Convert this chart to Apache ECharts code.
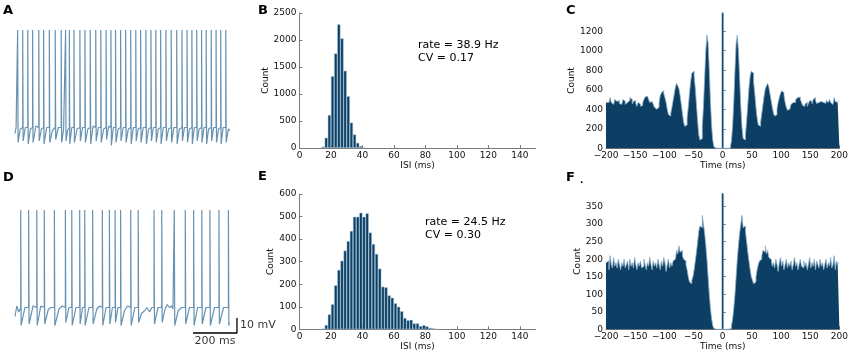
<!DOCTYPE html>
<html>
<head>
<meta charset="utf-8">
<script src="https://cdn.jsdelivr.net/npm/echarts@6/dist/echarts.min.js"></script>
<style>
  html, body { margin: 0; padding: 0; background: #fff; }
  #chart { width: 851px; height: 354px; }
</style>
</head>
<body>
<div id="chart"></div>
<script>
// ---- values ----

// ISI histograms, 2 ms bins (bin centre, ms)
var isiBinsB = [15, 17, 19, 21, 23, 25, 27, 29, 31, 33, 35, 37, 39, 41];
var isiCountsB = [25, 190, 610, 1330, 1750, 2290, 2030, 1430, 960, 470, 250, 95, 35, 10];

var isiBinsE = [15, 17, 19, 21, 23, 25, 27, 29, 31, 33, 35, 37, 39, 41, 43, 45, 47, 49, 51,
                53, 55, 57, 59, 61, 63, 65, 67, 69, 71, 73, 75, 77, 79, 81, 83, 85, 87];
var isiCountsE = [3, 19, 66, 111, 195, 263, 304, 349, 391, 436, 499, 499, 517, 499, 514, 429, 378, 334, 269,
                  189, 186, 150, 140, 115, 100, 80, 50, 40, 42, 26, 26, 14, 18, 13, 6, 4, 2];

// autocorrelograms, 2 ms bins, positive lags (an autocorrelogram is symmetric)
var acgLags = [2, 4, 6, 8, 10, 12, 14, 16, 18, 20, 22, 24, 26, 28, 30, 32, 34, 36, 38, 40,
               42, 44, 46, 48, 50, 52, 54, 56, 58, 60, 62, 64, 66, 68, 70, 72, 74, 76, 78, 80,
               82, 84, 86, 88, 90, 92, 94, 96, 98, 100, 102, 104, 106, 108, 110, 112, 114, 116, 118, 120,
               122, 124, 126, 128, 130, 132, 134, 136, 138, 140, 142, 144, 146, 148, 150, 152, 154, 156, 158, 160,
               162, 164, 166, 168, 170, 172, 174, 176, 178, 180, 182, 184, 186, 188, 190, 192, 194, 196, 198, 200];
var acgCountsC = [0, 0, 0, 0, 0, 0, 15, 80, 230, 480, 800, 1080, 1160, 1000, 720, 430, 220, 100, 85, 140,
                  280, 450, 620, 740, 790, 770, 680, 560, 420, 310, 240, 225, 270, 360, 450, 540, 610, 640, 665, 630,
                  560, 490, 420, 360, 330, 345, 400, 470, 520, 560, 590, 570, 540, 470, 420, 390, 400, 420, 450, 470,
                  480, 470, 500, 520, 535, 525, 500, 470, 440, 430, 455, 470, 430, 460, 490, 480, 455, 500, 520, 490,
                  460, 470, 450, 480, 500, 470, 450, 460, 490, 470, 480, 500, 470, 450, 470, 520, 480, 470, 490, 470];
var acgCountsF = [0, 0, 0, 0, 0, 0, 2, 10, 30, 60, 100, 150, 200, 240, 275, 300, 325, 290, 295, 280,
                  250, 220, 195, 170, 150, 140, 130, 135, 150, 170, 185, 195, 200, 210, 225, 220, 238, 215, 225, 205,
                  200, 195, 180, 190, 175, 200, 185, 165, 190, 205, 180, 195, 170, 185, 200, 175, 190, 180, 195, 170,
                  185, 205, 180, 190, 170, 185, 200, 180, 175, 195, 180, 190, 170, 185, 205, 175, 190, 180, 200, 170,
                  195, 185, 175, 200, 180, 190, 170, 185, 200, 175, 190, 180, 205, 175, 185, 210, 170, 195, 185, 190];
// zero-lag bin runs off the top of both panels
var acgZeroC = 1390;
var acgZeroF = 388;

// membrane potential traces (ms, mV)
var spikePeak = 15;
var spikeThreshold = -50;
var spikeTimesA = [12, 35, 58, 80, 108, 130, 156, 183, 210, 230, 247, 268, 295, 318, 342, 367, 390, 414, 436, 457, 480,
                   503, 526, 549, 571, 595, 618, 640, 662, 686, 710, 735, 759, 782, 804, 826, 848, 869, 892, 914, 935, 958];
var subA = [[0, -54], [5, -50],
  [14, -60], [24, -51], [37, -59], [47, -50], [60, -61], [70, -51], [82, -60], [95, -49],
  [110, -59], [120, -51], [132, -61], [144, -50], [158, -60], [170, -52], [185, -58], [197, -50],
  [212, -60], [221, -51], [232, -59], [239, -52], [249, -61], [258, -50], [270, -60], [282, -51],
  [297, -59], [307, -50], [320, -60], [331, -51], [344, -61], [355, -49], [369, -59], [379, -50],
  [392, -60], [403, -51], [416, -58], [426, -49], [438, -62], [447, -50], [459, -60], [469, -51],
  [482, -59], [492, -50], [505, -60], [515, -51], [528, -61], [538, -50], [551, -59], [560, -51],
  [573, -60], [583, -50], [597, -61], [607, -51], [620, -59], [629, -50], [642, -60], [651, -51],
  [664, -61], [674, -50], [688, -59], [698, -51], [712, -60], [722, -50], [737, -61], [747, -51],
  [761, -59], [770, -50], [784, -60], [793, -51], [806, -61], [815, -50], [828, -59], [837, -51],
  [850, -60], [859, -50], [871, -61], [880, -51], [894, -59], [903, -50], [916, -60], [925, -51],
  [937, -61], [946, -50], [960, -60], [970, -51], [977, -52]];

var spikeTimesD = [26, 62, 99, 133, 179, 229, 258, 294, 317, 353, 397, 429, 455, 480, 526, 560, 632, 667,
                   724, 774, 812, 849, 886, 927, 970];
var subD = [[0, -56], [8, -49], [17, -53],
  [28, -62], [45, -50], [64, -61], [82, -49], [101, -62], [117, -49],
  [135, -61], [152, -51], [165, -50], [181, -62], [200, -51], [215, -49],
  [231, -60], [245, -50], [260, -62], [277, -50], [296, -61], [307, -50],
  [319, -62], [336, -50], [355, -61], [372, -51], [385, -49], [399, -62], [414, -50],
  [431, -61], [443, -50], [457, -60], [468, -50], [482, -62], [498, -52], [512, -49],
  [528, -62], [545, -50], [562, -60], [575, -54], [590, -52], [600, -50], [612, -53], [622, -50],
  [634, -61], [650, -50], [669, -60], [682, -51], [692, -48], [702, -50], [712, -49], [718, -51],
  [726, -62], [742, -52], [758, -50], [776, -61], [793, -50], [814, -62], [830, -50],
  [851, -61], [868, -50], [888, -62], [907, -50], [929, -61], [948, -50], [972, -62], [975, -60]];

// scale bar: 200 ms, 10 mV
var scaleBar = [[809, -67], [1009, -67], [1009, -57]];

// ---- build ----
var font = 'DejaVu Sans';
var navy = '#0c3f63';
var traceColor = '#6792b2';

function pairs(xs, ys) {
    return xs.map(function (x, i) { return [x, ys[i]]; });
}
function buildTrace(spikes, sub) {
    var pts = sub.slice();
    spikes.forEach(function (t) { pts.push([t, spikeThreshold], [t, spikePeak]); });
    pts.sort(function (a, b) { return a[0] - b[0]; });
    return pts;
}
function buildAcg(half) {
    var out = [];
    for (var i = half.length - 1; i >= 0; i--) out.push([-acgLags[i], half[i]]);
    out.push([0, 0]); // zero-lag bin drawn as its own bar
    for (var j = 0; j < half.length; j++) out.push([acgLags[j], half[j]]);
    return out;
}

var axisLine = { lineStyle: { color: '#7a7a7a', width: 1 } };
var axisTick = { inside: true, length: 3, lineStyle: { color: '#7a7a7a' } };
function label(extra) {
    return Object.assign({ fontFamily: font, fontSize: 9, color: '#111', margin: 3,
        formatter: function (v) { return String(v).replace('-', '\u2212'); } }, extra || {});
}
function nameStyle() {
    return { fontFamily: font, fontSize: 9, color: '#111' };
}
function histX(grid, name, gap) {
    return { type: 'value', gridIndex: grid, min: 0, max: 150, interval: 20, name: name, nameLocation: 'middle',
        nameGap: gap, nameTextStyle: nameStyle(), axisLine: axisLine, axisTick: axisTick,
        axisLabel: label({ showMaxLabel: false }), splitLine: { show: false } };
}
function acgX(grid, gap) {
    return { type: 'value', gridIndex: grid, min: -200, max: 200, interval: 50, name: 'Time (ms)', nameLocation: 'middle',
        nameGap: gap, nameTextStyle: nameStyle(), axisLine: axisLine, axisTick: axisTick,
        axisLabel: label(), splitLine: { show: false } };
}
function countY(grid, max, interval, gap) {
    return { type: 'value', gridIndex: grid, min: 0, max: max, interval: interval, name: 'Count', nameLocation: 'middle',
        nameGap: gap, nameTextStyle: nameStyle(), axisLine: Object.assign({ show: true }, axisLine), axisTick: axisTick,
        axisLabel: label({ showMaxLabel: max % interval === 0 }), splitLine: { show: false } };
}
function traceX(grid) { return { type: 'value', gridIndex: grid, min: 0, max: 1025, show: false }; }
function traceY(grid) { return { type: 'value', gridIndex: grid, min: -70, max: 15, show: false }; }

function letter(t, left, top) {
    return { text: t, left: left, top: top, padding: 0,
        textStyle: { fontFamily: font, fontSize: 13, fontWeight: 'bold', color: '#000' } };
}
function note(t, left, top, lh) {
    return { text: t, left: left, top: top, padding: 0,
        textStyle: { fontFamily: font, fontSize: 11, fontWeight: 'normal', color: '#000', lineHeight: lh } };
}
function acgSeries(xi, half) {
    return { type: 'line', xAxisIndex: xi, yAxisIndex: xi, data: buildAcg(half), step: 'middle',
        showSymbol: false, lineStyle: { color: '#8db0c9', width: 0.8 }, areaStyle: { color: navy, opacity: 1 }, silent: true };
}
function zeroBar(xi, v) {
    return { type: 'bar', xAxisIndex: xi, yAxisIndex: xi, data: [[0, v]], barWidth: 2.2, z: 3,
        itemStyle: { color: navy, borderColor: '#9dbcd2', borderWidth: 0.4 }, silent: true };
}

var option = {
    backgroundColor: '#fff',
    animation: false,
    title: [
        letter('A', 3, 4), letter('B', 258, 4), letter('C', 566, 4),
        letter('D', 3, 171), letter('E', 258, 170), letter('F', 566, 171),
        { text: '.', left: 580, top: 176, padding: 0, textStyle: { fontFamily: font, fontSize: 9, color: '#000' } },
        note('rate = 38.9 Hz\nCV = 0.17', 418, 39, 12.5),
        note('rate = 24.5 Hz\nCV = 0.30', 425, 216, 13)
    ],
    grid: [
        { left: 15, top: 30, width: 225.5, height: 127.5 },
        { left: 299.5, top: 13, width: 236, height: 135 },
        { left: 606, top: 12.7, width: 235, height: 135.6 },
        { left: 15, top: 210, width: 225.5, height: 127.5 },
        { left: 299.5, top: 194, width: 236, height: 135.3 },
        { left: 606, top: 193.3, width: 235, height: 136 }
    ],
    xAxis: [
        traceX(0), histX(1, 'ISI (ms)', 12), acgX(2, 12),
        traceX(3), histX(4, 'ISI (ms)', 10), acgX(5, 12)
    ],
    yAxis: [
        traceY(0), countY(1, 2500, 500, 25), countY(2, 1390, 200, 25),
        traceY(3), countY(4, 600, 100, 22), countY(5, 388, 50, 21)
    ],
    series: [
        { type: 'line', xAxisIndex: 0, yAxisIndex: 0, data: buildTrace(spikeTimesA, subA), showSymbol: false,
          lineStyle: { color: traceColor, width: 1.2 }, silent: true },
        { type: 'bar', xAxisIndex: 1, yAxisIndex: 1, data: pairs(isiBinsB, isiCountsB), barWidth: 3.15,
          itemStyle: { color: navy, borderColor: '#a9c6dc', borderWidth: 0.5 }, silent: true },
        acgSeries(2, acgCountsC),
        zeroBar(2, acgZeroC),
        { type: 'line', xAxisIndex: 3, yAxisIndex: 3, data: buildTrace(spikeTimesD, subD), showSymbol: false,
          lineStyle: { color: traceColor, width: 1.2 }, silent: true },
        { type: 'line', xAxisIndex: 3, yAxisIndex: 3, data: scaleBar, showSymbol: false,
          lineStyle: { color: '#000', width: 1.3 }, silent: true },
        { type: 'scatter', xAxisIndex: 3, yAxisIndex: 3, symbolSize: 0, silent: true,
          data: [{ value: [1009, -62], label: { formatter: '10 mV', position: 'right', distance: 3 } },
                 { value: [909, -67], label: { formatter: '200 ms', position: 'bottom', distance: 3 } }],
          label: { show: true, fontFamily: font, fontSize: 11, color: '#000' } },
        { type: 'bar', xAxisIndex: 4, yAxisIndex: 4, data: pairs(isiBinsE, isiCountsE), barWidth: 3.15,
          itemStyle: { color: navy, borderColor: '#a9c6dc', borderWidth: 0.5 }, silent: true },
        acgSeries(5, acgCountsF),
        zeroBar(5, acgZeroF)
    ]
};

var chart = echarts.init(document.getElementById('chart'));
chart.setOption(option);
</script>
</body>
</html>
